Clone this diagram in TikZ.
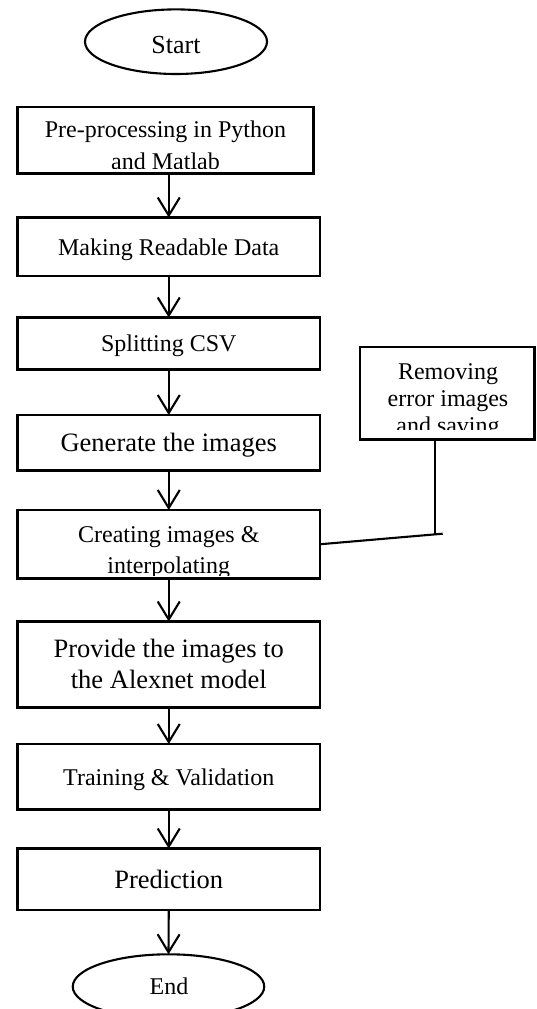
\documentclass[tikz,border=0pt]{standalone}
\usepackage{fontspec}
\setmainfont{Liberation Serif}
\usetikzlibrary{arrows.meta,shapes.geometric}

\tikzset{
  stepbox/.style={draw, line width=2.1pt, inner sep=0pt, outer sep=0pt, minimum width=302.5pt},
  oval/.style={draw, ellipse, line width=2.1pt, inner sep=0pt, outer sep=0pt},
  txtA/.style={inner sep=0pt, anchor=base, font=\fontsize{24}{28}\selectfont},
  txtB/.style={inner sep=0pt, anchor=base, font=\fontsize{26.5}{31}\selectfont},
  flow/.style={line width=2.1pt, -{Straight Barb[length=18pt, width=22pt, line width=2.1pt]}},
  link/.style={line width=2.1pt}
}

\begin{document}
\begin{tikzpicture}[x=1pt, y=-1pt]
\useasboundingbox (0,0) rectangle (536,1009);

% terminals
\node[oval, minimum width=182pt, minimum height=64.6pt] (start) at (176,41.7) {};
\node[txtB, font=\fontsize{26}{30}\selectfont] (tstart) at (176,53.3) {Start};

\node[oval, minimum width=191.5pt, minimum height=64.6pt] (end) at (168.5,986.6) {};
\node[txtA] (tend) at (169,994.3) {End};

% process boxes
\node[stepbox, minimum width=296pt, minimum height=66.5pt] (b1) at (165.5,140.25) {};
\node[stepbox, minimum height=58.5pt] (b2) at (168.75,246.75) {};
\node[stepbox, minimum height=52pt]   (b3) at (168.75,343.5) {};
\node[stepbox, minimum height=55.5pt] (b4) at (168.75,442.75) {};
\node[stepbox, minimum height=68.5pt] (b5) at (168.75,544.25) {};
\node[stepbox, minimum height=86pt]   (b6) at (168.75,664.5) {};
\node[stepbox, minimum height=65.5pt] (b7) at (168.75,776.75) {};
\node[stepbox, minimum height=61.5pt] (b8) at (168.75,879.25) {};
\node[stepbox, minimum width=174.5pt, minimum height=92.5pt] (rem) at (447.25,393.25) {};

% box texts (the fixed-size frames cut off their last lines)
\begin{scope}
  \clip (17.5,107) rectangle (313.5,168.8);
  \node[txtA] (t1a) at (165.5,137.3) {Pre-processing in Python};
  \node[txtA] (t1b) at (165.5,169.5) {and Matlab};
\end{scope}
\node[txtA] (t2) at (168.75,255) {Making Readable Data};
\node[txtA] (t3) at (168.75,351.6) {Splitting CSV};
\node[txtB] (t4) at (168.75,451.6) {Generate the images};
\begin{scope}
  \clip (17.5,510) rectangle (320,575);
  \node[txtA] (t5a) at (168.75,542) {Creating images \&};
  \node[txtA] (t5b) at (168.75,573.5) {interpolating};
\end{scope}
\node[txtB] (t6a) at (168.75,657.7) {Provide the images to};
\node[txtB] (t6b) at (168.75,688.5) {the Alexnet model};
\node[txtA] (t7) at (168.75,785) {Training \& Validation};
\node[txtB] (t8) at (168.75,888.5) {Prediction};
\begin{scope}
  \clip (360,347) rectangle (534.5,429.5);
  \node[txtA] (tra) at (448,379) {Removing};
  \node[txtA] (trb) at (448,406) {error images};
  \node[txtA] (trc) at (448,433) {and saving};
\end{scope}

% main flow
\draw[flow] (b2.north |- b1.south) -- (b2.north);
\draw[flow] (b2.south) -- (b3.north);
\draw[flow] (b3.south) -- (b4.north);
\draw[flow] (b4.south) -- (b5.north);
\draw[flow] (b5.south) -- (b6.north);
\draw[flow] (b6.south) -- (b7.north);
\draw[flow] (b7.south) -- (b8.north);
\draw[flow] (b8.south) -- (end.north);

% side link to the cleaning step
\coordinate (kv) at (435,534);
\coordinate (ks) at (442.7,533.7);
\draw[link] (rem.south -| kv) -- (kv);
\draw[link] (ks) -- (b5.east);
\end{tikzpicture}
\end{document}
